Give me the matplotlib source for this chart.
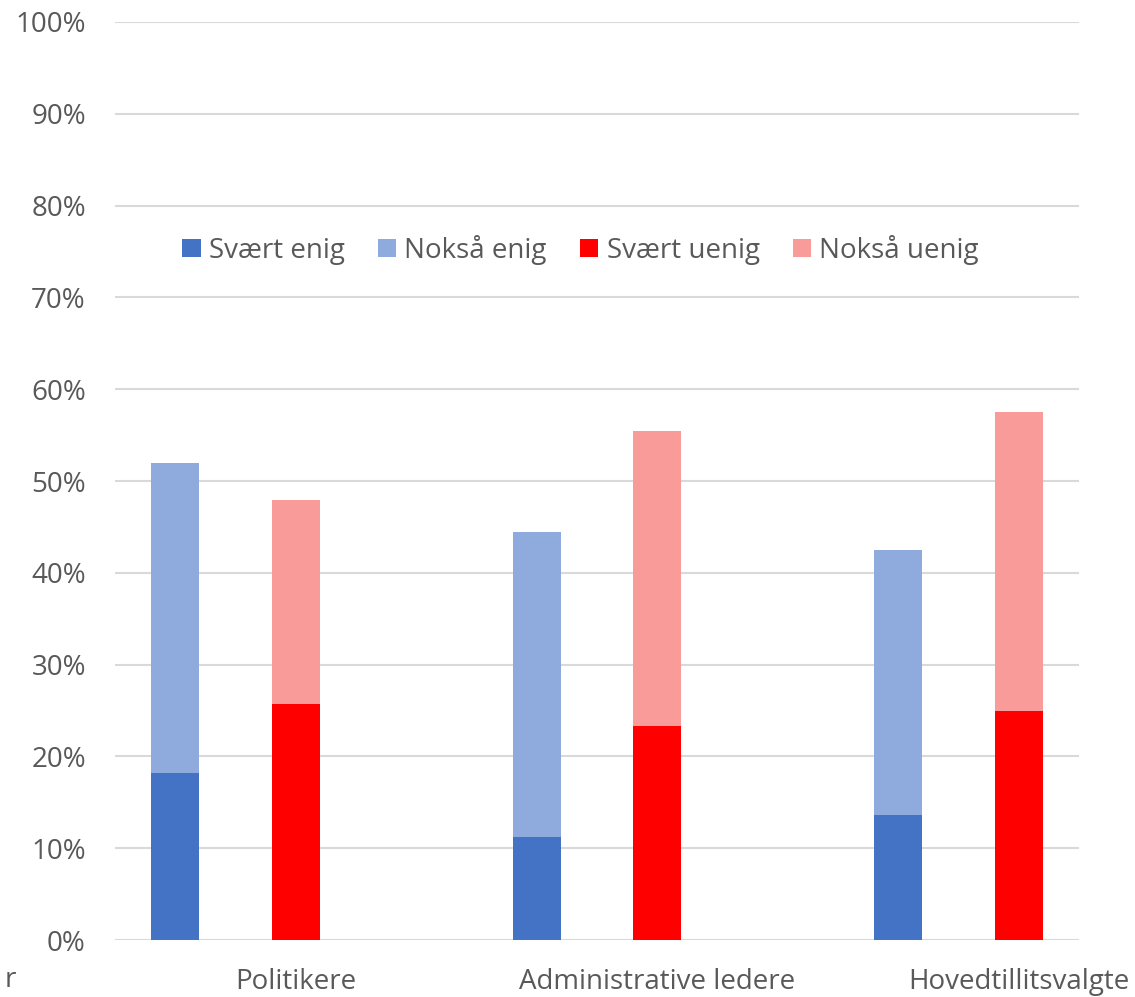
import numpy as np
import matplotlib.pyplot as plt

plt.rcParams['font.family'] = ['Open Sans', 'DejaVu Sans']

groups = ['Politikere', 'Administrative ledere', 'Hovedtillitsvalgte']
svaert_enig = [18.2, 11.2, 13.6]
noksa_enig = [33.8, 33.2, 28.9]
svaert_uenig = [25.7, 23.3, 24.9]
noksa_uenig = [22.2, 32.1, 32.6]

c_se = '#4472c4'
c_ne = '#8faadc'
c_su = '#ff0000'
c_nu = '#f99b98'

fig = plt.figure(figsize=(11.35, 9.97), dpi=100)
ax = fig.add_axes([115/1135, 1-940/997, 964/1135, 918/997])

# 8 slots: enig, uenig, blank per group
x_enig = np.array([0, 3, 6])
x_uenig = x_enig + 1
w = 0.4

ax.bar(x_enig, svaert_enig, w, color=c_se, label='Svært enig', zorder=3)
ax.bar(x_enig, noksa_enig, w, bottom=svaert_enig, color=c_ne, label='Nokså enig', zorder=3)
ax.bar(x_uenig, svaert_uenig, w, color=c_su, label='Svært uenig', zorder=3)
ax.bar(x_uenig, noksa_uenig, w, bottom=svaert_uenig, color=c_nu, label='Nokså uenig', zorder=3)

ax.set_xlim(-0.5, 7.5)
ax.set_ylim(0, 100)
ax.set_yticks(np.arange(0, 101, 10))
ax.set_yticklabels([f'{v}%' for v in range(0, 101, 10)])
ax.set_xticks(x_uenig)
ax.set_xticklabels(groups)
ax.grid(axis='y', color='#d9d9d9', linewidth=1.5, zorder=0)
for s in ax.spines.values():
    s.set_visible(False)
ax.tick_params(length=0, labelsize=20, colors='#595959', pad=21)
ax.tick_params(axis='x', pad=20)

leg = ax.legend(loc='center', bbox_to_anchor=(0.483, 0.752), ncol=4, frameon=False,
                fontsize=20, handlelength=0.65, handleheight=0.65, handletextpad=0.3,
                columnspacing=1.2)
for t in leg.get_texts():
    t.set_color('#595959')

fig.text(0.004, 1-980/997, 'r', fontsize=20, color='#595959', va='center')

fig.savefig('out.png', dpi=100)
